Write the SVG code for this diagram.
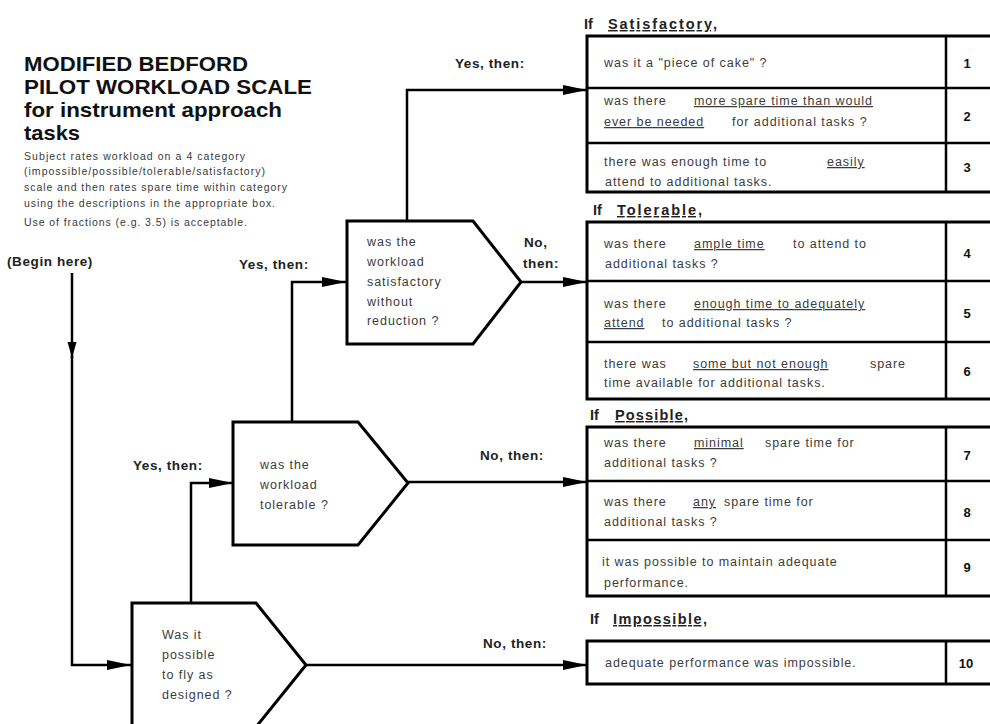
<svg xmlns="http://www.w3.org/2000/svg" width="990" height="724" viewBox="0 0 990 724">
<defs>
<style>
text { font-family: "Liberation Sans", Arial, sans-serif; }
.title { font-weight: bold; fill: #111; font-size: 20.5px; }
.desc { font-size: 10.5px; fill: #3a3a3a; }
.row { font-size: 12.5px; letter-spacing: 0.95px; fill: #3c3c3c; }
.ul { text-decoration: underline; }
.lbl { font-size: 13.5px; font-weight: bold; letter-spacing: 0.6px; fill: #222; }
.hdr { font-size: 14.5px; font-weight: bold; fill: #222; }
.num { font-size: 13px; font-weight: bold; text-anchor: middle; fill: #111; }
.shape { fill: #fff; stroke: #000; stroke-width: 3; stroke-linejoin: miter; }
.tbl { fill: none; stroke: #000; stroke-width: 3; }
.div { stroke: #000; stroke-width: 2.5; }
.conn { fill: none; stroke: #000; stroke-width: 2.5; }
</style>
<marker id="ah" markerUnits="userSpaceOnUse" markerWidth="26" markerHeight="11" refX="24" refY="5" orient="auto">
<path d="M0,0 L24,5 L0,10 z" fill="#000"/>
</marker>
<marker id="ahs" markerUnits="userSpaceOnUse" markerWidth="18" markerHeight="11" refX="16" refY="5" orient="auto">
<path d="M0,0.5 L16,5 L0,9.5 z" fill="#000"/>
</marker>
</defs>
<rect width="990" height="724" fill="#fff"/>

<g id="title">
<text class="title" x="24" y="70.5" textLength="224" lengthAdjust="spacingAndGlyphs">MODIFIED BEDFORD</text>
<text class="title" x="24" y="93.5" textLength="288" lengthAdjust="spacingAndGlyphs">PILOT WORKLOAD SCALE</text>
<text class="title" x="24" y="116.5" textLength="258" lengthAdjust="spacingAndGlyphs">for instrument approach</text>
<text class="title" x="24" y="139.5" textLength="56" lengthAdjust="spacingAndGlyphs">tasks</text>
</g>

<g id="description">
<text class="desc" x="24" y="160" textLength="221">Subject rates workload on a 4 category</text>
<text class="desc" x="24" y="175" textLength="241">(impossible/possible/tolerable/satisfactory)</text>
<text class="desc" x="24" y="191" textLength="263">scale and then rates spare time within category</text>
<text class="desc" x="24" y="207" textLength="251">using the descriptions in the appropriate box.</text>
<text class="desc" x="24" y="226" textLength="223">Use of fractions (e.g. 3.5) is acceptable.</text>
</g>

<g id="begin">
<text class="lbl" x="7" y="266">(Begin here)</text>
</g>

<g id="connectors">
<path class="conn" d="M72,273 V358" marker-end="url(#ahs)"/>
<path class="conn" d="M72,356 V665 H131" marker-end="url(#ah)"/>
<path class="conn" d="M191,603 V483 H233" marker-end="url(#ah)"/>
<path class="conn" d="M306,665 H587" marker-end="url(#ah)"/>
<path class="conn" d="M292,422 V282 H346" marker-end="url(#ah)"/>
<path class="conn" d="M408,482 H587" marker-end="url(#ah)"/>
<path class="conn" d="M407,221 V90 H587" marker-end="url(#ah)"/>
<path class="conn" d="M521,282 H587" marker-end="url(#ah)"/>
</g>

<g id="connector-labels">
<text class="lbl" x="455" y="68">Yes, then:</text>
<text class="lbl" x="239" y="269">Yes, then:</text>
<text class="lbl" x="133" y="470">Yes, then:</text>
<text class="lbl" x="524" y="247">No,</text>
<text class="lbl" x="523" y="268">then:</text>
<text class="lbl" x="480" y="460">No, then:</text>
<text class="lbl" x="483" y="648">No, then:</text>
</g>

<g id="node-flyable">
<polygon class="shape" points="132,603 256,603 306,665 256,727 132,727"/>
<text class="row" x="162" y="639">Was it</text>
<text class="row" x="162" y="659">possible</text>
<text class="row" x="162" y="679">to fly as</text>
<text class="row" x="162" y="699">designed ?</text>
</g>

<g id="node-tolerable">
<polygon class="shape" points="233,422 358,422 408,483 358,545 233,545"/>
<text class="row" x="260" y="469">was the</text>
<text class="row" x="260" y="489">workload</text>
<text class="row" x="260" y="509">tolerable ?</text>
</g>

<g id="node-satisfactory">
<polygon class="shape" points="347,221 473,221 521,282 473,344 347,344"/>
<text class="row" x="367" y="246">was the</text>
<text class="row" x="367" y="266">workload</text>
<text class="row" x="367" y="286">satisfactory</text>
<text class="row" x="367" y="306">without</text>
<text class="row" x="367" y="325">reduction ?</text>
</g>

<g id="table-satisfactory">
<text class="hdr" x="584" y="29">If</text>
<text class="hdr ul" x="608" y="29" textLength="109">Satisfactory,</text>
<rect class="tbl" x="587" y="36" width="420" height="156"/>
<line class="div" x1="946" y1="36" x2="946" y2="192"/>
<line class="div" x1="587" y1="88" x2="1000" y2="88"/>
<line class="div" x1="587" y1="143" x2="1000" y2="143"/>
<text class="row" x="604" y="67">was it a "piece of cake" ?</text>
<text class="num" x="967" y="68">1</text>
<text class="row" x="604" y="105">was there</text>
<text class="row ul" x="694" y="105">more spare time than would</text>
<text class="row ul" x="604" y="126">ever be needed</text>
<text class="row" x="732" y="126">for additional tasks ?</text>
<text class="num" x="967" y="121">2</text>
<text class="row" x="604" y="166">there was enough time to</text>
<text class="row ul" x="827" y="166">easily</text>
<text class="row" x="605" y="186">attend to additional tasks.</text>
<text class="num" x="967" y="172">3</text>
</g>

<g id="table-tolerable">
<text class="hdr" x="593" y="215">If</text>
<text class="hdr ul" x="617" y="215" textLength="85">Tolerable,</text>
<rect class="tbl" x="587" y="222" width="420" height="177"/>
<line class="div" x1="946" y1="222" x2="946" y2="399"/>
<line class="div" x1="587" y1="281" x2="1000" y2="281"/>
<line class="div" x1="587" y1="342" x2="1000" y2="342"/>
<text class="row" x="604" y="248">was there</text>
<text class="row ul" x="694" y="248">ample time</text>
<text class="row" x="793" y="248">to attend to</text>
<text class="row" x="605" y="268">additional tasks ?</text>
<text class="num" x="967" y="258">4</text>
<text class="row" x="604" y="308">was there</text>
<text class="row ul" x="694" y="308">enough time to adequately</text>
<text class="row ul" x="604" y="327">attend</text>
<text class="row" x="662" y="327">to additional tasks ?</text>
<text class="num" x="967" y="318">5</text>
<text class="row" x="604" y="368">there was</text>
<text class="row ul" x="693" y="368">some but not enough</text>
<text class="row" x="870" y="368">spare</text>
<text class="row" x="604" y="387">time available for additional tasks.</text>
<text class="num" x="967" y="376">6</text>
</g>

<g id="table-possible">
<text class="hdr" x="590" y="420">If</text>
<text class="hdr ul" x="615" y="420" textLength="73">Possible,</text>
<rect class="tbl" x="587" y="427" width="420" height="169"/>
<line class="div" x1="946" y1="427" x2="946" y2="596"/>
<line class="div" x1="587" y1="481" x2="1000" y2="481"/>
<line class="div" x1="587" y1="540" x2="1000" y2="540"/>
<text class="row" x="604" y="447">was there</text>
<text class="row ul" x="694" y="447">minimal</text>
<text class="row" x="765" y="447">spare time for</text>
<text class="row" x="604" y="467">additional tasks ?</text>
<text class="num" x="967" y="460">7</text>
<text class="row" x="604" y="506">was there</text>
<text class="row ul" x="693" y="506">any</text>
<text class="row" x="724" y="506">spare time for</text>
<text class="row" x="604" y="526">additional tasks ?</text>
<text class="num" x="967" y="517">8</text>
<text class="row" x="602" y="566">it was possible to maintain adequate</text>
<text class="row" x="604" y="587">performance.</text>
<text class="num" x="967" y="572">9</text>
</g>

<g id="table-impossible">
<text class="hdr" x="590" y="624">If</text>
<text class="hdr ul" x="613" y="624" textLength="94">Impossible,</text>
<rect class="tbl" x="587" y="641" width="420" height="43"/>
<line class="div" x1="946" y1="641" x2="946" y2="684"/>
<text class="row" x="605" y="667">adequate performance was impossible.</text>
<text class="num" x="966" y="668">10</text>
</g>
</svg>
